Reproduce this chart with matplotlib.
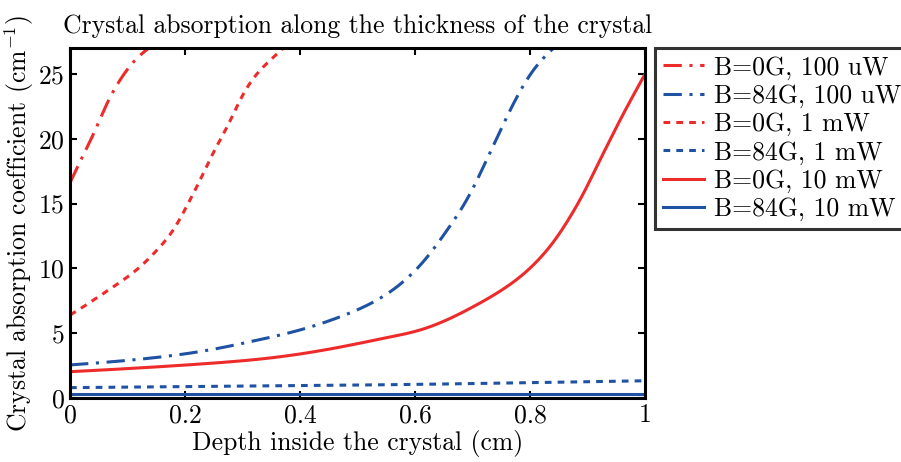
import numpy as np
import matplotlib
matplotlib.use("Agg")
import matplotlib.pyplot as plt

plt.rcParams['font.family'] = ['cmr10', 'DejaVu Serif']
plt.rcParams['mathtext.fontset'] = 'cm'
plt.rcParams['axes.formatter.use_mathtext'] = True

# Data
x_r100 = [0.0, 0.016, 0.039, 0.062, 0.091, 0.114, 0.137, 0.16, 0.2]
y_r100 = [16.6, 18.1, 20.2, 22.5, 24.8, 26.1, 27.0, 27.8, 29.0]

x_b100 = [0.0, 0.235, 0.313, 0.4, 0.470, 0.539, 0.614, 0.655,
          0.690, 0.719, 0.748, 0.777, 0.806, 0.841, 0.87]
y_b100 = [2.55, 3.65, 4.34, 5.25, 6.27, 7.69, 10.5, 12.9,
          15.3, 17.85, 20.6, 23.2, 25.3, 27.0, 28.2]

x_r1 = [0.0, 0.041, 0.076, 0.116, 0.151, 0.180, 0.203, 0.226, 0.249, 0.273,
        0.296, 0.325, 0.354, 0.371, 0.4]
y_r1 = [6.4, 7.56, 8.6, 9.9, 11.4, 13.0, 14.8, 16.8, 18.9, 20.9,
        23.0, 25.0, 26.3, 27.0, 28.0]

x_b1 = [0.0, 0.2, 0.4, 0.6, 0.72, 0.85, 1.0]
y_b1 = [0.8, 0.88, 0.96, 1.05, 1.13, 1.22, 1.33]

x_r10 = [0.0, 0.226, 0.342, 0.458, 0.545, 0.609, 0.696, 0.742, 0.783, 0.817,
         0.841, 0.870, 0.893, 0.916, 0.939, 0.962, 1.0]
y_r10 = [2.03, 2.62, 3.06, 3.83, 4.6, 5.25, 6.92, 8.08, 9.36, 10.78,
         12.06, 14.0, 15.8, 17.85, 19.9, 21.9, 25.0]

x_b10 = [0.0, 1.0]
y_b10 = [0.28, 0.28]

labels = ['B=0G, 100 uW', 'B=84G, 100 uW', 'B=0G, 1 mW',
          'B=84G, 1 mW', 'B=0G, 10 mW', 'B=84G, 10 mW']

red = '#ee2b2b'
blue = '#1f52a3'


def smooth(xs, ys, n=500):
    """Natural cubic spline of log(y) through the read points (smooth drawing)."""
    xs = np.asarray(xs, float); ys = np.log(np.asarray(ys, float))
    k = len(xs)
    h = np.diff(xs)
    A = np.zeros((k, k)); b = np.zeros(k)
    A[0, 0] = 1; A[-1, -1] = 1
    for i in range(1, k - 1):
        A[i, i-1] = h[i-1]; A[i, i] = 2*(h[i-1] + h[i]); A[i, i+1] = h[i]
        b[i] = 6*((ys[i+1]-ys[i])/h[i] - (ys[i]-ys[i-1])/h[i-1])
    M = np.linalg.solve(A, b)
    xx = np.linspace(xs[0], xs[-1], n)
    idx = np.clip(np.searchsorted(xs, xx) - 1, 0, k - 2)
    x0 = xs[idx]; x1 = xs[idx+1]; hh = h[idx]
    yy = (M[idx]*(x1-xx)**3/(6*hh) + M[idx+1]*(xx-x0)**3/(6*hh)
          + (ys[idx]/hh - M[idx]*hh/6)*(x1-xx)
          + (ys[idx+1]/hh - M[idx+1]*hh/6)*(xx-x0))
    return xx, np.exp(yy)


fig = plt.figure(figsize=(9.01, 4.62), dpi=100)
ax = fig.add_axes([0.0777, 0.1385, 0.6382, 0.7575])

lw = 2.2
dashdot = (0, (6, 2.5, 1, 2.5))
dotted = (0, (2.2, 2))
ax.plot(*smooth(x_r100, y_r100), color=red, lw=lw, ls=dashdot, label=labels[0])
ax.plot(*smooth(x_b100, y_b100), color=blue, lw=lw, ls=dashdot, label=labels[1])
ax.plot(*smooth(x_r1, y_r1), color=red, lw=lw, ls=dotted, label=labels[2])
ax.plot(*smooth(x_b1, y_b1), color=blue, lw=lw, ls=dotted, label=labels[3])
ax.plot(*smooth(x_r10, y_r10), color=red, lw=lw, ls='-', label=labels[4])
ax.plot(x_b10, y_b10, color=blue, lw=lw, ls='-', label=labels[5])

ax.set_xlim(0, 1)
ax.set_ylim(0, 27)
ax.set_xticks([0, 0.2, 0.4, 0.6, 0.8, 1])
ax.set_xticklabels(['0', '0.2', '0.4', '0.6', '0.8', '1'])
ax.set_yticks([0, 5, 10, 15, 20, 25])
ax.tick_params(direction='in', top=True, right=True, length=5, width=1.5,
               labelsize=18.5, pad=4)
for s in ax.spines.values():
    s.set_linewidth(2.2)

ax.set_xlabel('Depth inside the crystal (cm)', fontsize=18.5, labelpad=2)
ax.set_ylabel(r'Crystal absorption coefficient (cm$^{-1}$)', fontsize=18.5, labelpad=1)
ax.set_title('Crystal absorption along the thickness of the crystal', fontsize=18.5, pad=11)

leg = ax.legend(loc='upper left', bbox_to_anchor=(1.018, 1.0), fontsize=18.5,
                frameon=True, fancybox=False, edgecolor='black',
                handlelength=1.6, handletextpad=0.4, labelspacing=0.17,
                borderpad=0.3, borderaxespad=0)
leg.get_frame().set_linewidth(2.2)

fig.savefig('out.png', dpi=100)
